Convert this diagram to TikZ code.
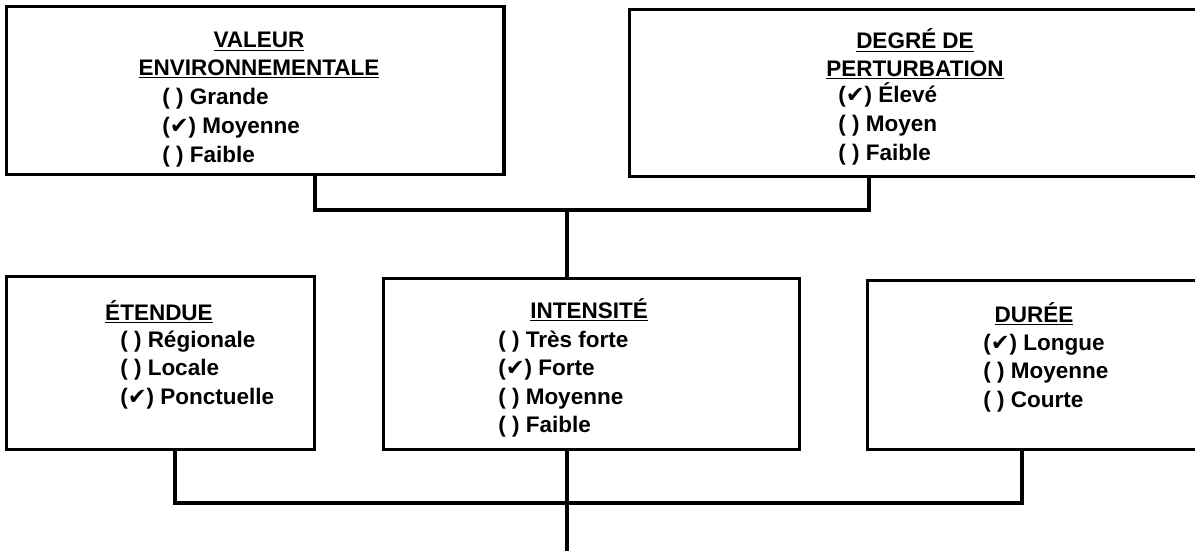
\documentclass[tikz,border=0pt]{standalone}
\usepackage{fontspec}
\setmainfont{Liberation Sans}
\newfontfamily\coche{DejaVu Sans}
\newcommand{\vu}{{\coche\char"2714}}

\begin{document}
\begin{tikzpicture}[x=0.025cm,y=-0.025cm,
  boite/.style={draw,rectangle,line width=2.4pt,anchor=north west,inner sep=0pt},
  titre/.style={anchor=base,inner sep=0pt,font=\bfseries\fontsize{16}{20.3}\selectfont},
  liste/.style={anchor=base west,inner sep=0pt,font=\bfseries\fontsize{16}{20.3}\selectfont},
  lien/.style={line width=2.2pt}]
\useasboundingbox (0,0) rectangle (1195,551);

% boites du haut
\node[boite,minimum width=12.425cm,minimum height=4.2cm] (valeur) at (5,5) {};
\node[boite,minimum width=14.55cm,minimum height=4.175cm] (degre) at (628,8) {};
% boites du milieu
\node[boite,minimum width=7.7cm,minimum height=4.325cm] (etendue) at (5,275) {};
\node[boite,minimum width=10.4cm,minimum height=4.275cm] (intensite) at (382,277) {};
\node[boite,minimum width=8.6cm,minimum height=4.225cm] (duree) at (866,279) {};

\node[titre] (valeurT) at (259,48) {\begin{tabular}[t]{@{}c@{}}\underline{VALEUR}\\[-1pt]\underline{ENVIRONNEMENTALE}\end{tabular}};
\node[liste] (valeurL) at (162,105) {\begin{tabular}[t]{@{}l@{}}( ) Grande\\(\vu) Moyenne\\( ) Faible\end{tabular}};

\node[titre] (degreT) at (915,49) {\begin{tabular}[t]{@{}c@{}}\underline{DEGRÉ DE}\\[-1pt]\underline{PERTURBATION}\end{tabular}};
\node[liste] (degreL) at (838,103) {\begin{tabular}[t]{@{}l@{}}(\vu) Élevé\\( ) Moyen\\( ) Faible\end{tabular}};

\node[titre] (etendueT) at (159,320) {\underline{ÉTENDUE}};
\node[liste] (etendueL) at (120,347) {\begin{tabular}[t]{@{}l@{}}( ) Régionale\\( ) Locale\\(\vu) Ponctuelle\end{tabular}};

\node[titre] (intensiteT) at (589,318) {\underline{INTENSITÉ}};
\node[liste] (intensiteL) at (498,347) {\begin{tabular}[t]{@{}l@{}}( ) Très forte\\(\vu) Forte\\( ) Moyenne\\( ) Faible\end{tabular}};

\node[titre] (dureeT) at (1034,322) {\underline{DURÉE}};
\node[liste] (dureeL) at (983,350) {\begin{tabular}[t]{@{}l@{}}(\vu) Longue\\( ) Moyenne\\( ) Courte\end{tabular}};

% jonctions
\coordinate (valeurPied) at (315,173);
\coordinate (degrePied) at (869,175);
\coordinate (jHaut) at (567,210);
\coordinate (etenduePied) at (175,448);
\coordinate (dureePied) at (1022,448);
\coordinate (jBas) at (567,503);
\coordinate (sortie) at (567,551);

\draw[lien] (valeurPied) |- (jHaut) -| (degrePied);
\draw[lien] (jHaut) -- (jHaut |- intensite.north);
\draw[lien] (etenduePied) |- (jBas) -| (dureePied);
\draw[lien] (intensite.south -| jBas) -- (sortie);
\end{tikzpicture}
\end{document}
